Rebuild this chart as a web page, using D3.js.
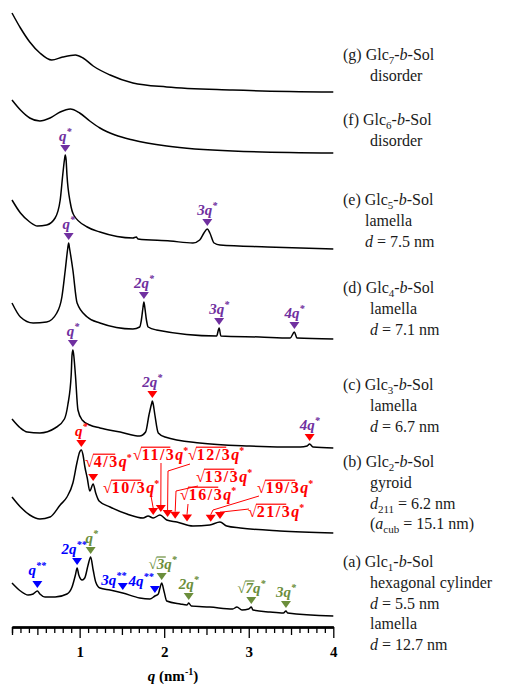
<!DOCTYPE html>
<html>
<head>
<meta charset="utf-8">
<script src="https://cdn.jsdelivr.net/npm/d3@7"></script>
<style>
  body { margin: 0; background: #fff; }
  svg { display: block; }
  .muestra { font-family: 'Liberation Serif', 'Times New Roman', serif; font-size: 16px; fill: #1a1a1a; }
  .pico { font-family: 'Liberation Serif', serif; font-size: 15px; font-weight: bold; font-style: italic; }
  .raiz { font-family: 'Liberation Serif', serif; font-size: 16px; font-weight: bold; fill: #ff0000; }
  .eje text { font-family: 'Liberation Serif', serif; font-size: 15px; font-weight: bold; }
</style>
</head>
<body>
<div id="graf"></div>
<script>
// I. Datos (q en nm^-1, intensidad en u.a. ya desplazada por muestra)
qG = [0.20,0.30,0.41,0.53,0.67,0.80,0.95,1.04,1.16,1.36,1.63,2.03,2.81,4.00]
vG = [62.7,61.2,59.8,58.7,58.0,58.3,58.5,58.2,57.4,56.5,55.7,55.3,55.0,54.8]

qF = [0.20,0.30,0.41,0.53,0.65,0.77,0.89,1.00,1.12,1.24,1.42,1.63,2.03,2.81,4.00]
vF = [54.0,53.0,52.2,51.9,52.2,52.8,53.1,52.7,51.9,51.2,50.5,50.0,49.4,48.9,48.7]

qE = [0.20,0.30,0.41,0.50,0.61,0.71,0.77,0.80,0.82,0.83,0.84,0.85,0.89,0.93,1.09,1.24,1.63,1.67,1.69,2.07,2.34,2.42,2.47,2.51,2.54,2.59,2.66,3.22,4.00]
vE = [44.0,42.7,41.8,41.4,41.5,42.2,44.0,46.5,48.0,48.5,48.0,46.5,43.7,42.5,41.3,40.8,40.2,40.3,40.1,39.9,39.7,40.0,40.7,41.1,40.7,39.7,39.5,39.3,39.1]

qD = [0.20,0.30,0.45,0.61,0.73,0.79,0.83,0.86,0.87,0.88,0.92,0.97,1.09,1.24,1.63,1.71,1.73,1.75,1.76,1.77,1.79,1.81,1.91,2.62,2.65,2.67,3.13,3.49,3.54,3.57,4.00]
vD = [33.7,32.3,31.7,31.8,32.7,34.3,37.0,39.2,39.7,39.2,37.0,33.7,32.3,31.7,31.1,31.3,32.0,33.3,33.8,33.3,32.0,31.3,31.0,30.4,31.2,30.4,30.3,30.2,30.8,30.2,30.1]

qC = [0.20,0.30,0.38,0.53,0.71,0.82,0.86,0.90,0.91,0.92,0.93,0.95,0.98,1.03,1.12,1.24,1.48,1.71,1.78,1.82,1.85,1.86,1.87,1.89,1.93,2.01,2.42,3.01,3.61,3.69,3.72,3.76,4.00]
vC = [22.1,21.2,20.8,20.7,21.2,22.1,23.5,26.5,28.5,29.0,28.5,26.5,23.0,22.0,21.5,21.2,20.8,20.4,20.8,22.5,23.6,23.9,23.6,22.5,20.7,20.3,19.7,19.4,19.3,19.4,19.6,19.3,19.2]

qB = [0.20,0.30,0.41,0.53,0.65,0.77,0.85,0.92,0.97,1.00,1.02,1.04,1.06,1.09,1.12,1.16,1.19,1.23,1.36,1.56,1.75,1.81,1.87,1.95,2.03,2.15,2.34,2.54,2.66,2.74,2.90,3.37,4.00]
vB = [14.3,13.3,12.5,12.1,12.3,13.5,14.3,15.7,17.8,18.8,19.0,18.5,17.4,16.2,14.9,15.6,14.7,13.9,13.3,12.6,12.2,12.4,12.2,12.5,12.0,11.8,11.4,11.5,11.8,11.4,11.2,10.9,10.7]

qA = [0.20,0.30,0.39,0.45,0.50,0.53,0.59,0.71,0.85,0.91,0.95,0.97,0.99,1.03,1.06,1.10,1.13,1.16,1.19,1.24,1.36,1.51,1.71,1.83,1.89,1.93,1.95,1.97,2.00,2.03,2.19,2.27,2.29,2.32,2.54,2.81,2.86,2.92,3.00,3.03,3.05,3.25,3.41,3.44,3.46,4.00]
vA = [5.7,4.9,4.5,4.6,4.9,4.6,4.3,4.3,4.6,5.3,6.5,7.2,6.5,6.0,6.2,7.5,8.3,7.0,5.8,5.2,5.0,4.7,4.2,4.1,4.4,4.6,5.2,5.7,4.8,3.9,3.6,3.5,3.7,3.4,3.3,3.1,3.3,3.0,3.1,3.3,3.0,2.8,2.7,2.9,2.7,2.4]

// colores de las reflexiones
morado = '#7030a0'
rojo = '#ff0000'
azul = '#0000ff'
verde = '#6b8e3b'

// reflexiones marcadas (q, texto antes de q, superindice)
marcasE = [
  { q: 0.83, pre: '', sup: '*', lc: morado, tc: morado },
  { q: 2.51, pre: '3', sup: '*', lc: morado, tc: morado }
]
marcasD = [
  { q: 0.87, pre: '', sup: '*', lc: morado, tc: morado },
  { q: 1.76, pre: '2', sup: '*', lc: morado, tc: morado },
  { q: 2.65, pre: '3', sup: '*', lc: morado, tc: morado },
  { q: 3.54, pre: '4', sup: '*', lc: morado, tc: morado }
]
marcasC = [
  { q: 0.92, pre: '', sup: '*', lc: morado, tc: morado },
  { q: 1.86, pre: '2', sup: '*', lc: morado, tc: rojo },
  { q: 3.72, pre: '4', sup: '*', lc: morado, tc: rojo }
]
marcasB = [
  { q: 1.02, pre: '', sup: '*', lc: rojo, tc: rojo }
]
marcasA = [
  { q: 0.50, pre: '', sup: '**', lc: azul, tc: azul, dy: -2 },
  { q: 0.97, pre: '2', sup: '**', lc: azul, tc: azul, dx: -3 },
  { q: 1.51, pre: '3', sup: '**', lc: azul, tc: azul, dx: -9, dy: 6 },
  { q: 1.89, pre: '4', sup: '**', lc: azul, tc: azul, dx: -14, dy: 4 },
  { q: 1.13, pre: '', sup: '*', lc: verde, tc: verde, dx: 1 },
  { q: 1.97, rad: '3', sup: '*', lc: verde, tc: verde, dx: 1 },
  { q: 2.29, pre: '2', sup: '*', lc: verde, tc: verde },
  { q: 3.03, rad: '7', sup: '*', lc: verde, tc: verde },
  { q: 3.44, pre: '3', sup: '*', lc: verde, tc: verde }
]

// giroide: sqrt(n/3) q*, con posicion de la etiqueta y del codo de la guia
giroideQ = [1.16, 1.87, 1.96, 2.04, 2.13, 2.27, 2.55, 2.66]
giroideN = ['4/3', '10/3', '11/3', '12/3', '13/3', '16/3', '19/3', '21/3']
giroideEt = [
  { x: 85,  y: 467, guia: [] },
  { x: 103, y: 493, guia: [[151, 496]] },
  { x: 133, y: 460, guia: [[161, 463]] },
  { x: 188, y: 460, guia: [[190, 464], [168, 471]] },
  { x: 196, y: 482, guia: [[198, 486], [176, 491]] },
  { x: 180, y: 500, guia: [[188, 504]] },
  { x: 257, y: 493, guia: [[259, 496], [213, 510]] },
  { x: 248, y: 517, guia: [[249, 509], [222, 512]] }
]

curvas = [
  { q: qG, v: vG, marcas: [] },
  { q: qF, v: vF, marcas: [] },
  { q: qE, v: vE, marcas: marcasE },
  { q: qD, v: vD, marcas: marcasD },
  { q: qC, v: vC, marcas: marcasC },
  { q: qB, v: vB, marcas: marcasB },
  { q: qA, v: vA, marcas: marcasA }
]

// etiquetas de muestra a la derecha
etiquetas = [
  { y: 60, x2: 370, lineas: [[['(g) Glc'], ['7', 'sub'], ['-'], ['b', 'i'], ['-Sol']], [['disorder']]] },
  { y: 125, x2: 370, lineas: [[['(f) Glc'], ['6', 'sub'], ['-'], ['b', 'i'], ['-Sol']], [['disorder']]] },
  { y: 205, x2: 365, lineas: [[['(e) Glc'], ['5', 'sub'], ['-'], ['b', 'i'], ['-Sol']], [['lamella']], [['d', 'i'], [' = 7.5 nm']]] },
  { y: 293, x2: 370, lineas: [[['(d) Glc'], ['4', 'sub'], ['-'], ['b', 'i'], ['-Sol']], [['lamella']], [['d', 'i'], [' = 7.1 nm']]] },
  { y: 390, x2: 370, lineas: [[['(c) Glc'], ['3', 'sub'], ['-'], ['b', 'i'], ['-Sol']], [['lamella']], [['d', 'i'], [' = 6.7 nm']]] },
  { y: 467, x2: 370, lineas: [[['(b) Glc'], ['2', 'sub'], ['-'], ['b', 'i'], ['-Sol']], [['gyroid']],
      [['d', 'i'], ['211', 'sub'], [' = 6.2 nm']], [['('], ['a', 'i'], ['cub', 'sub'], [' = 15.1 nm)']]] },
  { y: 567, x2: 370, lineas: [[['(a) Glc'], ['1', 'sub'], ['-'], ['b', 'i'], ['-Sol']], [['hexagonal cylinder']],
      [['d', 'i'], [' = 5.5 nm']], [['lamella']], [['d', 'i'], [' = 12.7 nm']]] }
]

// II. Configuracion
ancho_total = 509
alto_total = 684

svg = d3.select('#graf').append('svg')
        .attr('width', ancho_total)
        .attr('height', alto_total)

x = d3.scaleLinear().domain([0.2, 4.0]).range([12, 333.3])
y = d3.scaleLinear().domain([0, 64]).range([640, 0])

linea = d3.line()
          .x(d => x(d[0]))
          .y(d => y(d[1]))
          .curve(d3.curveMonotoneX)

// valor de la curva cerca de q (toma el maximo local)
function valorEn(c, q) {
  let best = -Infinity
  for (let i = 0; i < c.q.length - 1; i++) {
    if (q >= c.q[i] && q <= c.q[i + 1]) {
      const t = (q - c.q[i]) / (c.q[i + 1] - c.q[i])
      best = c.v[i] + t * (c.v[i + 1] - c.v[i])
    }
  }
  c.q.forEach((qq, i) => { if (Math.abs(qq - q) <= 0.025) best = Math.max(best, c.v[i]) })
  return best
}

function triangulo(g, cx, tip, color) {
  g.append('path')
    .attr('d', `M${cx - 5},${tip - 7}L${cx + 5},${tip - 7}L${cx},${tip}Z`)
    .attr('fill', color)
}

// texto con raiz: raiz + radicando con raya + q + superindice
function etiquetaPico(g, px, py, m, clase, anchor) {
  const t = g.append('text')
             .attr('class', clase)
             .attr('x', px).attr('y', py)
             .attr('text-anchor', anchor)
             .style('fill', m.lc)
  let rad = null, sq = null
  if (m.rad) {
    sq = t.append('tspan').text('√')
    rad = t.append('tspan').text(m.rad)
  } else if (m.pre) {
    t.append('tspan').text(m.pre)
  }
  t.append('tspan').style('font-style', 'italic').text('q')
  t.append('tspan').attr('dy', -6).style('font-size', '10px').text(m.sup)
  if (rad) {
    const bs = sq.node().getBBox()
    const br = rad.node().getBBox()
    const fs = parseFloat(getComputedStyle(t.node()).fontSize)
    g.append('line')
      .attr('x1', bs.x + bs.width - 1).attr('x2', br.x + br.width + 1)
      .attr('y1', py - fs * 0.8).attr('y2', py - fs * 0.8)
      .attr('stroke', m.lc).attr('stroke-width', 1.2)
  }
  return t
}

// III. Curvas
gCurvas = svg.append('g')
curvas.forEach(c => {
  gCurvas.append('path')
    .datum(c.q.map((q, i) => [q, c.v[i]]))
    .attr('d', linea)
    .attr('fill', 'none')
    .attr('stroke', '#000')
    .attr('stroke-width', 1.5)
})

// IV. Reflexiones
gMarcas = svg.append('g')
curvas.forEach(c => {
  c.marcas.forEach(m => {
    const cx = x(m.q)
    const tip = y(valorEn(c, m.q)) - 3
    triangulo(gMarcas, cx, tip, m.tc)
    etiquetaPico(gMarcas, cx + (m.dx || 0), tip - 11 + (m.dy || 0), m, 'pico', 'middle')
  })
})

// giroide (b)
curvaB = curvas[5]
giroideQ.forEach((q, i) => {
  const cx = x(q)
  const tip = y(valorEn(curvaB, q)) - 3
  const et = giroideEt[i]
  triangulo(gMarcas, cx, tip, rojo)
  etiquetaPico(gMarcas, et.x, et.y, { rad: giroideN[i], sup: '*', lc: rojo }, 'raiz', 'start')
    .selectAll('tspan').filter((d, j) => j == 1).attr('letter-spacing', 1.5)
  if (et.guia.length) {
    const pts = et.guia.concat([[cx, tip - 7]])
    gMarcas.append('path')
      .attr('d', d3.line()(pts))
      .attr('fill', 'none')
      .attr('stroke', rojo)
      .attr('stroke-width', 1)
  }
})

// V. Etiquetas de muestra
etiquetas.forEach(e => {
  e.lineas.forEach((partes, k) => {
    const t = svg.append('text')
                 .attr('class', 'muestra')
                 .attr('x', k == 0 ? 343 : e.x2)
                 .attr('y', e.y + k * 20.8)
    let shift = 0
    partes.forEach(([txt, st]) => {
      const ts = t.append('tspan').text(txt)
      const target = st == 'sub' ? 4 : 0
      if (target != shift) ts.attr('dy', target - shift)
      shift = target
      if (st == 'sub') ts.style('font-size', '11px')
      if (st == 'i') ts.style('font-style', 'italic')
    })
  })
})

// VI. Eje
ejeG = svg.append('g')
          .attr('class', 'eje')
          .attr('transform', 'translate(0, 627)')

menores = d3.range(2, 41).map(d => d / 10)
ejeG.append('g').call(d3.axisBottom(x).tickValues(menores.filter(d => Math.round(d * 10) % 5 != 0))
                         .tickSize(6).tickSizeOuter(0).tickFormat(''))
ejeG.append('g').call(d3.axisBottom(x).tickValues([0.5, 1.5, 2.5, 3.5])
                         .tickSize(8).tickSizeOuter(0).tickFormat(''))
ejeG.append('g').call(d3.axisBottom(x).tickValues([1, 2, 3, 4])
                         .tickSize(11).tickSizeOuter(0).tickPadding(8).tickFormat(d3.format('d')))
ejeG.selectAll('.tick line').attr('stroke', '#000').attr('stroke-width', 1.3)
ejeG.selectAll('.domain').attr('stroke', '#000').attr('stroke-width', 1.8)
ejeG.selectAll('.tick text').attr('fill', '#000')

// tick en 0.2 (inicio)
ejeG.append('g').call(d3.axisBottom(x).tickValues([0.2]).tickSize(8).tickSizeOuter(0).tickFormat(''))
    .selectAll('line').attr('stroke', '#000').attr('stroke-width', 1.3)

titulo = svg.append('text')
            .attr('x', 173).attr('y', 681)
            .attr('text-anchor', 'middle')
            .style('font-family', "'Liberation Serif', serif")
            .style('font-size', '15px')
            .style('font-weight', 'bold')
titulo.append('tspan').style('font-style', 'italic').text('q')
titulo.append('tspan').text(' (nm')
titulo.append('tspan').attr('dy', -6).style('font-size', '10px').text('-1')
titulo.append('tspan').attr('dy', 6).text(')')
</script>
</body>
</html>
